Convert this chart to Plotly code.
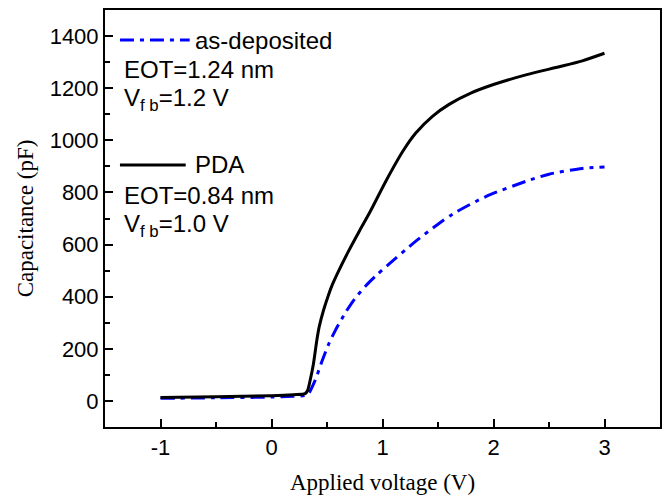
import plotly.graph_objects as go

# PDA (black solid)
pda_v = [-1.0, -0.5, 0.0, 0.2, 0.303, 0.325, 0.348, 0.378, 0.408, 0.43, 0.47, 0.512,
         0.55, 0.588, 0.692, 0.797, 0.887, 1.036, 1.186, 1.3, 1.45, 1.6, 1.8, 2.0,
         2.3, 2.6, 2.8, 3.0]
pda_c = [13, 16, 20, 24, 28, 40, 79, 143, 232, 285, 350, 405,
         448, 484, 573, 656, 725, 848, 960, 1028, 1092, 1138, 1182, 1214,
         1252, 1283, 1305, 1334]

# as-deposited (blue dash-dot)
asd_v = [-1.0, -0.5, 0.0, 0.2, 0.3, 0.333, 0.393, 0.453, 0.512, 0.572, 0.662, 0.75,
         0.85, 0.95, 1.05, 1.306, 1.5, 1.636, 1.935, 2.295, 2.5, 2.8, 3.0]
asd_c = [10, 12, 15, 18, 21, 28, 79, 150, 215, 268, 336, 392,
         442, 484, 522, 615, 678, 718, 785, 843, 870, 892, 898]

x_ticks = [-1, 0, 1, 2, 3]
y_ticks = [0, 200, 400, 600, 800, 1000, 1200, 1400]

fig = go.Figure()
fig.add_trace(go.Scatter(x=asd_v, y=asd_c, mode="lines", name="as-deposited",
                         line=dict(color="#0000ff", width=3, dash="14px,6px,4px,6px",
                                   shape="spline", smoothing=0.7)))
fig.add_trace(go.Scatter(x=pda_v, y=pda_c, mode="lines", name="PDA",
                         line=dict(color="black", width=3, shape="spline", smoothing=0.7)))

sans = "Liberation Sans, Arial, sans-serif"
serif = "Liberation Serif, Times New Roman, serif"

axis_common = dict(showline=True, linecolor="black", linewidth=2, mirror=True,
                   ticks="inside", ticklen=8, tickwidth=1.5, tickcolor="black",
                   showgrid=False, zeroline=False,
                   tickfont=dict(family=sans, size=22, color="black"))

fig.update_xaxes(range=[-1.5, 3.5], tickvals=x_ticks, ticktext=[str(v) for v in x_ticks],
                 minor=dict(ticks="inside", ticklen=5, tickwidth=1.5, tickcolor="black", dtick=0.5, tick0=0),
                 title=dict(text="Applied voltage (V)", font=dict(family=serif, size=23, color="black"), standoff=14),
                 **axis_common)
fig.update_yaxes(range=[-100, 1500], tickvals=y_ticks, ticktext=[str(v) for v in y_ticks],
                 minor=dict(ticks="inside", ticklen=5, tickwidth=1.5, tickcolor="black", dtick=100, tick0=0),
                 title=dict(text="Capacitance (pF)", font=dict(family=serif, size=23, color="black"), standoff=10),
                 **axis_common)

# Legend drawn manually
shapes = [
    dict(type="line", xref="paper", yref="paper", x0=(120-105)/557, x1=(190-105)/557,
         y0=(427-40)/417, y1=(427-40)/417, line=dict(color="#0000ff", width=3, dash="14px,6px,4px,6px")),
    dict(type="line", xref="paper", yref="paper", x0=(120-105)/557, x1=(186-105)/557,
         y0=(427-165)/417, y1=(427-165)/417, line=dict(color="black", width=3)),
]
texts = [
    ("as-deposited", 193, 40),
    ("EOT=1.24 nm", 122, 69),
    ("V<sub>f b</sub>=1.2 V", 122, 99),
    ("PDA", 193, 164),
    ("EOT=0.84 nm", 122, 195),
    ("V<sub>f b</sub>=1.0 V", 122, 225),
]
annotations = []
for t, px, py in texts:
    annotations.append(dict(text=t, xref="paper", yref="paper", x=(px-105)/557, y=(427-py)/417,
                            xanchor="left", yanchor="middle", showarrow=False,
                            font=dict(family=sans, size=24, color="black")))

fig.update_layout(width=667, height=498, margin=dict(l=105, r=5, t=10, b=71),
                  paper_bgcolor="white", plot_bgcolor="white", showlegend=False,
                  shapes=shapes, annotations=annotations)

fig.write_html("out.html")
